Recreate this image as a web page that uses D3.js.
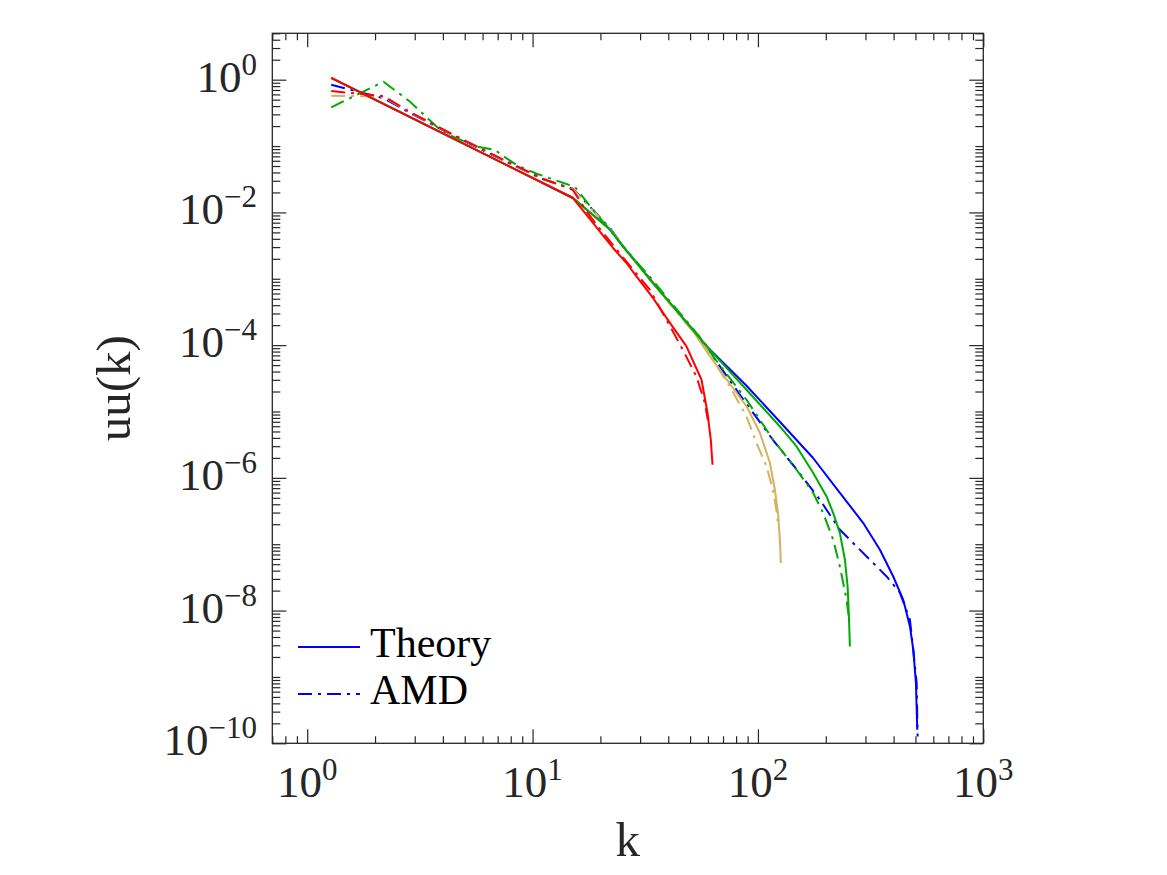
<!DOCTYPE html>
<html>
<head>
<meta charset="utf-8">
<script src="https://cdn.jsdelivr.net/npm/d3@7"></script>
<style>
  body { margin: 0; background: #fff; }
  svg text { font-family: "Liberation Serif", "DejaVu Serif", serif; fill: #262626; }
</style>
</head>
<body>
<svg width="1167" height="875"></svg>
<script>
// spectra: [k, uu(k)]
var theory1024 = [[1.278,1.061],[15.11,0.01648],[17.93,0.01007],[22.0,0.00558],[25.12,0.003094],[29.0,0.001716],
  [33.11,9.84e-4],[41.9,3.86e-4],[49.84,1.926e-4],[59.31,9.56e-5],[88.99,2.445e-5],[125.1,7.01e-6],[175.3,2.008e-6],
  [231.0,5.96e-7],[293.3,2.082e-7],[347.8,8.24e-8],[398.5,3.264e-8],[441.3,1.454e-8],[472.6,5.76e-9],[489.0,2.56e-9],
  [502.5,8.07e-10],[509.2,1.596e-10]];
var amd1024 = [[1.278,0.841],[2.182,0.526],[2.789,0.3294],[4.603,0.136],[6.928,0.0679],[11.09,0.0317],[15.07,0.02276],
  [18.49,0.01098],[22.0,0.00588],[25.12,0.003148],[29.0,0.001745],[33.11,0.001002],[41.9,3.79e-4],[49.84,1.893e-4],
  [59.31,9.13e-5],[83.14,1.789e-5],[116.5,3.75e-6],[148.9,1.323e-6],[188.3,4.68e-7],[231.0,1.651e-7],[303.6,6.53e-8],
  [372.5,3.27e-8],[426.8,1.854e-8],[472.6,7.26e-9],[489.0,2.56e-9],[506.1,8.16e-10],[511.3,1.265e-10]];

var theory256 = [[1.278,1.061],[15.11,0.01648],[17.93,0.01007],[22.0,0.00558],[25.12,0.003094],[29.0,0.001716],
  [33.11,9.84e-4],[41.9,3.86e-4],[49.84,1.926e-4],[59.31,7.95e-5],[72.78,3.01e-5],[89.27,1.179e-5],[102.0,4.78e-6],
  [113.0,1.688e-6],[118.9,6.61e-7],[123.0,2.778e-7],[125.1,1.167e-7],[126.4,5.2e-8]];
var amd256 = [[1.278,0.574],[2.182,0.5545],[2.789,0.335],[4.603,0.138],[6.928,0.069],[11.09,0.032],[15.07,0.0225],
  [18.49,0.0108],[22.0,0.0058],[25.12,0.0031],[29.0,0.00172],[33.11,9.9e-4],[41.9,3.7e-4],[49.84,1.83e-4],
  [55.21,1.352e-4],[63.06,6.02e-5],[75.03,2.384e-5],[88.99,8.42e-6],[98.58,3.34e-6],[109.2,1.484e-6],[116.5,6.61e-7],
  [121.3,2.977e-7],[123.0,1.963e-7]];

var theory512 = [[1.278,1.061],[15.11,0.01648],[17.93,0.01007],[22.0,0.00558],[25.12,0.003094],[29.0,0.001716],
  [33.11,9.84e-4],[41.9,3.86e-4],[49.84,1.926e-4],[59.31,9.56e-5],[88.99,2.127e-5],[125.1,5.95e-6],[148.4,2.97e-6],
  [175.9,1.18e-6],[201.6,5.24e-7],[215.8,2.945e-7],[231.0,1.472e-7],[243.2,5.83e-8],[250.0,2.307e-8],[253.3,8.14e-9],
  [255.9,2.874e-9]];
var amd512 = [[1.278,0.3824],[2.182,0.933],[2.847,0.471],[3.675,0.2099],[4.03,0.159],[5.646,0.0978],[6.787,0.0881],
  [7.366,0.0715],[8.59,0.0506],[10.43,0.0383],[13.61,0.028],[15.38,0.02439],[17.21,0.015],[19.86,0.00832],
  [23.56,0.00411],[27.83,0.002076],[33.11,0.001074],[41.9,4.06e-4],[49.84,2.029e-4],[59.31,9.79e-5],[63.24,6.75e-5],
  [88.99,1.503e-5],[116.8,3.75e-6],[148.4,1.323e-6],[175.9,5.9e-7],[194.8,2.945e-7],[215.8,1.166e-7],[231.0,4.62e-8],
  [247.4,1.454e-8],[254.1,7.26e-9]];

var theory128 = [[1.278,1.061],[15.11,0.01648],[17.33,0.00923],[19.86,0.00517],[22.75,0.00291],[26.1,0.001727],
  [28.9,0.001085],[34.15,5.18e-4],[40.62,2.18e-4],[48.19,9.56e-5],[56.18,3.01e-5],[59.74,9.57e-6],[61.78,3.75e-6],
  [62.86,1.575e-6]];
var amd128 = [[1.278,0.675],[2.182,0.564],[2.789,0.341],[4.603,0.1398],[6.928,0.0698],[11.09,0.0322],[15.07,0.02199],
  [17.39,0.01025],[19.86,0.00568],[26.1,0.001806],[33.11,6.84e-4],[39.28,2.41e-4],[46.41,8.52e-5],[53.39,3.34e-5],
  [58.1,1.354e-5],[59.91,7.51e-6]];

var series = [
  {name: "Theory", data: theory1024, color: "#0000ff", dash: null},
  {name: "AMD", data: amd1024, color: "#0000ff", dash: "14,6,3,6"},
  {name: "Theory", data: theory256, color: "#d6b25e", dash: null},
  {name: "AMD", data: amd256, color: "#d6b25e", dash: "14,6,3,6"},
  {name: "Theory", data: theory512, color: "#00aa00", dash: null},
  {name: "AMD", data: amd512, color: "#00aa00", dash: "14,6,3,6"},
  {name: "Theory", data: theory128, color: "#ff0000", dash: null},
  {name: "AMD", data: amd128, color: "#ff0000", dash: "14,6,3,6"}
];

var xMajor = [1, 10, 100, 1000];
var yMajor = [1, 1e-2, 1e-4, 1e-6, 1e-8, 1e-10];

var svg = d3.select("svg");
var plotL = 272.3, plotR = 983.3, plotT = 33.3, plotB = 743.3;

var x = d3.scaleLog().domain([0.7, 1000]).range([plotL, plotR]);
var y = d3.scaleLog().domain([1e-10, 5]).range([plotB, plotT]);

// minor ticks
var xMinor = [];
[-1, 0, 1, 2].forEach(function (e) {
  for (var m = 2; m <= 9; m++) {
    var v = m * Math.pow(10, e);
    if (v >= 0.7 && v <= 1000) xMinor.push(v);
  }
});
var yMinor = [];
for (var e = -10; e <= 0; e++) {
  for (var m = 1; m <= 9; m++) {
    var v = m * Math.pow(10, e);
    if (v > 5.01) continue;
    if (m == 1 && e % 2 == 0) continue;
    yMinor.push(v);
  }
}

function ticks(axis, scale, vals, len, tx, ty) {
  svg.append("g")
    .attr("transform", "translate(" + tx + "," + ty + ")")
    .call(axis(scale).tickValues(vals).tickSize(-len).tickFormat(""))
    .call(function (g) { g.select(".domain").remove(); })
    .selectAll("line").attr("stroke", "#262626").attr("stroke-width", 1.2);
}
ticks(d3.axisBottom, x, xMinor, 7, 0, plotB);
ticks(d3.axisBottom, x, xMajor, 14, 0, plotB);
ticks(d3.axisTop, x, xMinor, 7, 0, plotT);
ticks(d3.axisTop, x, xMajor, 14, 0, plotT);
ticks(d3.axisLeft, y, yMinor, 8, plotL, 0);
ticks(d3.axisLeft, y, yMajor, 14, plotL, 0);
ticks(d3.axisRight, y, yMinor, 8, plotR, 0);
ticks(d3.axisRight, y, yMajor, 14, plotR, 0);

svg.append("rect")
  .attr("x", plotL).attr("y", plotT)
  .attr("width", plotR - plotL).attr("height", plotB - plotT)
  .attr("fill", "none").attr("stroke", "#262626").attr("stroke-width", 1.3);

// tick labels 10^n
function expLabel(sel, v) {
  var p = Math.round(Math.log10(v));
  sel.append("tspan").text("10");
  sel.append("tspan").attr("dy", -17).style("font-size", "31px")
    .text(p < 0 ? "\u2212" + (-p) : p);
}
xMajor.forEach(function (v) {
  var t = svg.append("text")
    .attr("x", x(v)).attr("y", 797)
    .attr("text-anchor", "middle")
    .style("font-size", "45px");
  expLabel(t, v);
});
yMajor.forEach(function (v) {
  var t = svg.append("text")
    .attr("x", 257).attr("y", y(v) + 12)
    .attr("text-anchor", "end")
    .style("font-size", "45px");
  expLabel(t, v);
});

svg.append("text")
  .attr("x", (plotL + plotR) / 2).attr("y", 856)
  .attr("text-anchor", "middle")
  .style("font-size", "49px")
  .text("k");
svg.append("text")
  .attr("transform", "translate(130," + ((plotT + plotB) / 2) + ") rotate(-90)")
  .attr("text-anchor", "middle")
  .style("font-size", "49px")
  .text("uu(k)");

// spectra
var line = d3.line()
  .x(function (d) { return x(d[0]); })
  .y(function (d) { return y(d[1]); });

svg.append("g")
  .selectAll("path")
  .data(series)
  .enter().append("path")
  .attr("d", function (d) { return line(d.data); })
  .attr("fill", "none")
  .attr("stroke", function (d) { return d.color; })
  .attr("stroke-width", 2)
  .attr("stroke-linejoin", "round")
  .attr("stroke-dasharray", function (d) { return d.dash; });

// legend (first two entries only, no box)
var legend = svg.append("g")
  .selectAll("g")
  .data(series.slice(0, 2))
  .enter().append("g")
  .attr("transform", function (d, i) { return "translate(298," + (647 + i * 47) + ")"; });
legend.append("line")
  .attr("x1", 0).attr("x2", 62)
  .attr("stroke", function (d) { return d.color; })
  .attr("stroke-width", 2)
  .attr("stroke-dasharray", function (d) { return d.dash; });
legend.append("text")
  .attr("x", 72).attr("y", 10)
  .style("font-size", "42px")
  .style("fill", "#000")
  .text(function (d) { return d.name; });
</script>
</body>
</html>
